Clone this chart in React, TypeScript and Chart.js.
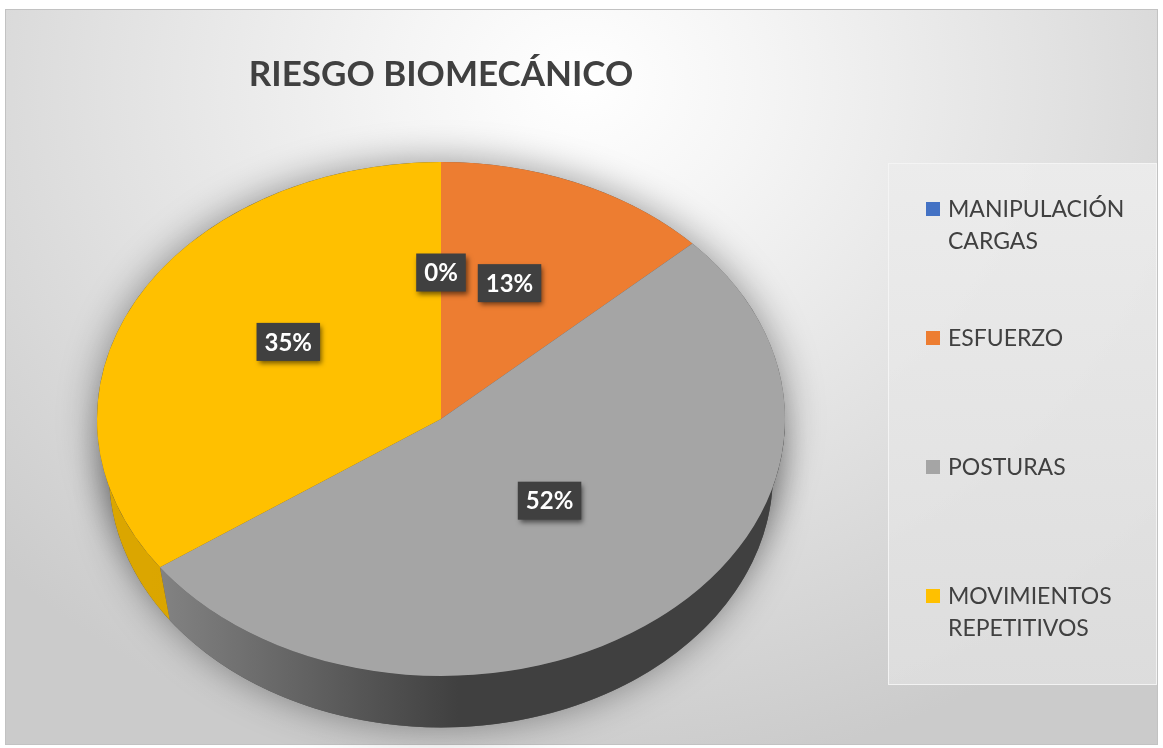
import { useEffect, useRef } from "react";
import { Chart, registerables } from "chart.js";

Chart.register(...registerables);

// ---------- data ----------
const chartTitle = "RIESGO BIOMECÁNICO";
const categories = ["MANIPULACIÓN CARGAS", "ESFUERZO", "POSTURAS", "MOVIMIENTOS REPETITIVOS"];
const legendLines = [["MANIPULACIÓN", "CARGAS"], ["ESFUERZO"], ["POSTURAS"], ["MOVIMIENTOS", "REPETITIVOS"]];
const counts = [0, 3, 12, 8];
const topColors = ["#4472C4", "#ED7D31", "#A5A5A5", "#FFC000"];
const sideLight = ["#3a63ad", "#d0661f", "#858585", "#dba600"];
const sideDark = ["#2f528f", "#b85a18", "#404040", "#cf9c00"];

// ---------- layout / style ----------
const W = 1163;
const H = 748;
const FONT = "Lato, 'Open Sans', sans-serif";
const STRETCH = 344 / 257; // horizontal stretch of the tilted pie
const LABEL_F = 0.5;
const LABEL_LIFT = 0.07;
const LEGEND = { x: 888, y: 163, w: 269, h: 522, firstLine: 46, step: 129, lineH: 32 };

function pieGeom(chart: any) {
  const meta = chart.getDatasetMeta(0);
  const arcs = meta.data as any[];
  if (!arcs.length) return null;
  const p = arcs[0].getProps(["x", "y", "outerRadius"], true);
  return { arcs, cx: p.x, cy: p.y, r: p.outerRadius };
}

const tiltPlugin = {
  id: "tilt3d",
  beforeDatasetsDraw(chart: any) {
    const g = pieGeom(chart);
    const ctx = chart.ctx as CanvasRenderingContext2D;
    ctx.save();
    if (!g) return;
    const { arcs, cx, cy, r } = g;
    const RX = r * STRETCH;
    const RY = r;
    const depth = r * 0.215;
    const brx = RX * 0.965;
    const bry = RY * 0.985;
    const bcy = cy + depth;
    // soft drop shadow
    ctx.save();
    ctx.shadowColor = "rgba(0,0,0,0.4)";
    ctx.shadowBlur = 38;
    ctx.fillStyle = "#555";
    ctx.beginPath();
    ctx.ellipse(cx, bcy, brx, bry, 0, 0, Math.PI * 2);
    ctx.fill();
    ctx.beginPath();
    ctx.ellipse(cx, cy, RX, RY, 0, 0, Math.PI * 2);
    ctx.fill();
    ctx.restore();
    // side walls (front half only)
    arcs.forEach((arc: any, i: number) => {
      const { startAngle, endAngle } = arc.getProps(["startAngle", "endAngle"], true);
      const s = Math.max(startAngle, 0);
      const e = Math.min(endAngle, Math.PI);
      if (e <= s) return;
      const grad = ctx.createLinearGradient(cx - RX * 0.85, 0, cx + RX * 0.05, 0);
      grad.addColorStop(0, sideLight[i]);
      grad.addColorStop(1, sideDark[i]);
      ctx.beginPath();
      ctx.ellipse(cx, cy, RX, RY, 0, s, e);
      ctx.ellipse(cx, bcy, brx, bry, 0, e, s, true);
      ctx.closePath();
      ctx.fillStyle = grad;
      ctx.fill();
    });
    // stretch the flat pie into the tilted ellipse
    ctx.translate(cx, cy);
    ctx.scale(STRETCH, 1);
    ctx.translate(-cx, -cy);
  },
  afterDatasetsDraw(chart: any) {
    const ctx = chart.ctx as CanvasRenderingContext2D;
    ctx.restore();
    const g = pieGeom(chart);
    if (!g) return;
    const { arcs, cx, cy, r } = g;
    const total = counts.reduce((a, b) => a + b, 0);
    ctx.save();
    ctx.font = `bold 24px ${FONT}`;
    ctx.textAlign = "center";
    ctx.textBaseline = "middle";
    arcs.forEach((arc: any, i: number) => {
      const { startAngle, endAngle } = arc.getProps(["startAngle", "endAngle"], true);
      const mid = (startAngle + endAngle) / 2;
      const x = cx + Math.cos(mid) * r * LABEL_F * STRETCH;
      const y = cy + Math.sin(mid) * r * LABEL_F - r * LABEL_LIFT;
      const text = Math.round((counts[i] / total) * 100) + "%";
      const tw = ctx.measureText(text).width;
      const bw = tw + 16;
      const bh = 38;
      ctx.save();
      ctx.shadowColor = "rgba(0,0,0,0.55)";
      ctx.shadowBlur = 5;
      ctx.shadowOffsetX = 2;
      ctx.shadowOffsetY = 3;
      ctx.fillStyle = "#404040";
      ctx.fillRect(x - bw / 2, y - bh / 2, bw, bh);
      ctx.restore();
      ctx.fillStyle = "#ffffff";
      ctx.fillText(text, x, y + 1);
    });
    ctx.restore();
  },
  afterDraw(chart: any) {
    const ctx = chart.ctx as CanvasRenderingContext2D;
    ctx.save();
    const lg = ctx.createLinearGradient(0, LEGEND.y, 0, LEGEND.y + LEGEND.h);
    lg.addColorStop(0, "rgba(236,236,236,0.9)");
    lg.addColorStop(1, "rgba(222,222,222,0.9)");
    ctx.fillStyle = lg;
    ctx.fillRect(LEGEND.x, LEGEND.y, LEGEND.w, LEGEND.h);
    ctx.strokeStyle = "rgba(245,245,245,0.9)";
    ctx.lineWidth = 1;
    ctx.strokeRect(LEGEND.x + 0.5, LEGEND.y + 0.5, LEGEND.w - 1, LEGEND.h - 1);
    ctx.font = `23px ${FONT}`;
    ctx.textAlign = "left";
    ctx.textBaseline = "middle";
    legendLines.forEach((lines, i) => {
      const y0 = LEGEND.y + LEGEND.firstLine + i * LEGEND.step;
      ctx.fillStyle = topColors[i];
      ctx.fillRect(LEGEND.x + 38, y0 - 7, 14, 14);
      ctx.fillStyle = "#404040";
      lines.forEach((ln, j) => {
        ctx.fillText(ln, LEGEND.x + 60, y0 + j * LEGEND.lineH + 1);
      });
    });
    ctx.restore();
  },
};

export default function App() {
  const ref = useRef<HTMLCanvasElement>(null);
  useEffect(() => {
    if (!ref.current) return;
    const chart = new Chart(ref.current, {
      type: "pie",
      data: {
        labels: categories,
        datasets: [
          {
            data: counts,
            backgroundColor: topColors,
            borderWidth: 0,
            clip: false as any,
          },
        ],
      },
      options: {
        responsive: false,
        animation: false,
        events: [],
        layout: { padding: { top: 38, left: 97, right: 378, bottom: 72 } },
        plugins: {
          legend: { display: false },
          tooltip: { enabled: false },
          title: {
            display: true,
            text: chartTitle,
            color: "#404040",
            font: { family: FONT, size: 35, weight: "bold" },
            padding: { top: 16, bottom: 66 },
          },
        },
      },
      plugins: [tiltPlugin],
    });
    return () => chart.destroy();
  }, []);
  return (
    <div style={{ position: "absolute", left: 0, top: 0, width: W, height: H, background: "#fff", overflow: "hidden" }}>
      <div
        style={{
          position: "absolute",
          left: 5,
          top: 9,
          width: 1151,
          height: 734,
          border: "1px solid #c2c2c2",
          background:
            "radial-gradient(ellipse 70% 95% at 50% 10%, #ffffff 0%, #f5f5f5 22%, #e2e2e2 58%, #cbcbcb 100%)",
        }}
      />
      <canvas ref={ref} width={W} height={H} style={{ position: "absolute", left: 0, top: 0, width: W, height: H }} />
    </div>
  );
}
